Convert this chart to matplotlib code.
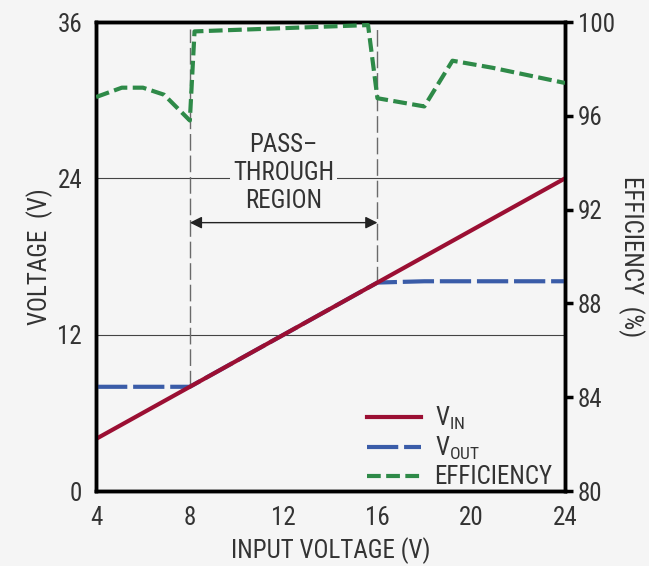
import matplotlib
matplotlib.use("Agg")
import matplotlib.pyplot as plt
from matplotlib.lines import Line2D
from matplotlib import font_manager

# choose a narrow sans-serif font if installed
order = ["Liberation Sans Narrow", "Roboto Condensed", "Noto Sans", "Open Sans", "DejaVu Sans"]
cands = []
for f in font_manager.fontManager.ttflist:
    st = str(f.stretch)
    narrow = ("Narrow" in f.name or "Condensed" in f.name or
              st in ("condensed", "semi-condensed", "extra-condensed", "ultra-condensed")
              or (st.isdigit() and int(st) < 500))
    if narrow and f.style == "normal" and f.weight in (400, "normal", "regular"):
        cands.append(f)
cands.sort(key=lambda f: (order.index(f.name) if f.name in order else 99))
if cands:
    chosen = cands[0]
    plt.rcParams["font.family"] = [chosen.name, "DejaVu Sans"]
    plt.rcParams["font.stretch"] = chosen.stretch
    fs = 18
else:
    plt.rcParams["font.family"] = ["Liberation Sans", "DejaVu Sans"]
    fs = 15

# data
vin_x = [4, 24]
vin_y = [4, 24]
vout_x = [4, 8, 16, 18, 24]
vout_y = [8, 8, 16, 16.1, 16.1]
eff_x = [4, 5.1, 6.0, 6.9, 8.0, 8.2, 15.6, 16.0, 18.0, 19.2, 20.9, 24]
eff_y = [96.8, 97.2, 97.2, 96.9, 95.8, 99.6, 99.87, 96.75, 96.4, 98.35, 98.05, 97.4]
x_ticks = [4, 8, 12, 16, 20, 24]
v_ticks = [0, 12, 24, 36]
e_ticks = [80, 84, 88, 92, 96, 100]

bg = "#f5f5f5"
red = "#9b0f33"
blue = "#3a5ca8"
green = "#2e8a48"
txt = "#333333"

vout_dash = (7.5, 1.4)
eff_dash = (3.3, 1.3)

fig = plt.figure(figsize=(6.49, 5.66), dpi=100, facecolor=bg)
ax = fig.add_axes([0.148, 0.1325, 0.7226, 0.8286], facecolor=bg)
ax2 = ax.twinx()

ax.set_xlim(4, 24)
ax.set_ylim(0, 36)
ax2.set_ylim(80, 100)

ax.axhline(12, color="#444444", lw=0.8, zorder=1)
ax.axhline(24, color="#444444", lw=0.8, zorder=1)

ax.plot([8, 8], [8, 35.5], color="#6a6a6a", lw=1.0, dashes=(12, 3.5), zorder=1)
ax.plot([16, 16], [16, 35.5], color="#6a6a6a", lw=1.0, dashes=(12, 3.5), zorder=1)

ax.annotate("", xy=(8, 20.6), xytext=(16, 20.6),
            arrowprops=dict(arrowstyle="<|-|>", color="#222222", lw=1.0,
                            mutation_scale=18, shrinkA=0, shrinkB=0))
ax.text(12, 24.4, "PASS–\nTHROUGH\nREGION", ha="center", va="center",
        fontsize=fs, color=txt, linespacing=1.2,
        bbox=dict(facecolor=bg, edgecolor="none", pad=2), zorder=3)

ax.plot(vin_x, vin_y, color=red, lw=3.0, zorder=4)
ax.plot(vout_x, vout_y, color=blue, lw=3.0, dashes=vout_dash, zorder=3)
ax2.plot(eff_x, eff_y, color=green, lw=3.0, dashes=eff_dash, zorder=3)

for a in (ax, ax2):
    for s in a.spines.values():
        s.set_linewidth(2.5)
        s.set_color("black")

ax.set_xticks(x_ticks)
ax.set_yticks(v_ticks)
ax2.set_yticks(e_ticks)
ax.tick_params(axis="both", length=0, labelsize=fs, colors=txt, pad=10)
ax.tick_params(axis="x", pad=11)
ax2.tick_params(axis="y", length=6, width=2.5, direction="out", labelsize=fs,
                labelcolor=txt, pad=3)

ax.set_xlabel("INPUT VOLTAGE (V)", fontsize=fs, color=txt, labelpad=5)
ax.set_ylabel("VOLTAGE  (V)", fontsize=fs, color=txt, labelpad=3)
ax2.set_ylabel("EFFICIENCY  (%)", fontsize=fs, color=txt, rotation=270, labelpad=22)

handles = [Line2D([], [], color=red, lw=3.0),
           Line2D([], [], color=blue, lw=3.0, dashes=vout_dash),
           Line2D([], [], color=green, lw=3.0, dashes=eff_dash)]
labels = ["V$_{\\mathregular{IN}}$", "V$_{\\mathregular{OUT}}$", "EFFICIENCY"]
leg = ax2.legend(handles, labels, loc="lower right", bbox_to_anchor=(0.995, -0.018),
                 frameon=False, fontsize=fs, handlelength=2.15, labelspacing=0.12,
                 handletextpad=0.55, borderaxespad=0.0)
for t in leg.get_texts():
    t.set_color(txt)

fig.savefig("out.png", dpi=100, facecolor=bg)
